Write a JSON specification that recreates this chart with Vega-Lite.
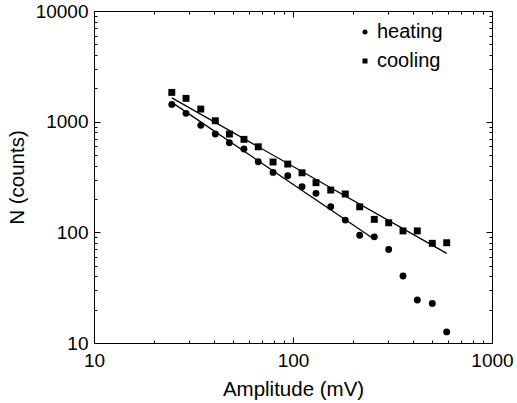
{
  "$schema": "https://vega.github.io/schema/vega-lite/v6.json",
  "width": 398,
  "height": 332,
  "autosize": {"type": "none"},
  "padding": {"left": 94, "top": 11, "right": 25, "bottom": 60},
  "background": "white",
  "config": {
    "view": {"stroke": null},
    "font": "Liberation Sans",
    "axis": {
      "domainColor": "black",
      "domainWidth": 1,
      "tickColor": "black",
      "tickWidth": 1,
      "grid": false,
      "labelFont": "Liberation Sans",
      "labelFontSize": 19,
      "labelColor": "black",
      "titleFont": "Liberation Sans",
      "titleFontSize": 20.5,
      "titleFontWeight": "normal",
      "titleColor": "black",
      "labelOverlap": false,
      "labelFlush": false,
      "labelBound": false
    }
  },
  "layer": [
    {
      "data": {
        "values": [
          {"amp": 24.6, "n": 1433, "series": "heating"},
          {"amp": 29.0, "n": 1189, "series": "heating"},
          {"amp": 34.4, "n": 926, "series": "heating"},
          {"amp": 40.7, "n": 773, "series": "heating"},
          {"amp": 47.9, "n": 645, "series": "heating"},
          {"amp": 56.7, "n": 566, "series": "heating"},
          {"amp": 66.9, "n": 434, "series": "heating"},
          {"amp": 79.4, "n": 348, "series": "heating"},
          {"amp": 94.1, "n": 325, "series": "heating"},
          {"amp": 111.0, "n": 258, "series": "heating"},
          {"amp": 130.5, "n": 225, "series": "heating"},
          {"amp": 154.7, "n": 170, "series": "heating"},
          {"amp": 183.1, "n": 129, "series": "heating"},
          {"amp": 216.4, "n": 94, "series": "heating"},
          {"amp": 256.2, "n": 91, "series": "heating"},
          {"amp": 302.6, "n": 70, "series": "heating"},
          {"amp": 357.2, "n": 40.3, "series": "heating"},
          {"amp": 421.3, "n": 24.5, "series": "heating"},
          {"amp": 501.2, "n": 22.8, "series": "heating"},
          {"amp": 592.0, "n": 12.6, "series": "heating"},
          {"amp": 24.6, "n": 1839, "series": "cooling"},
          {"amp": 29.0, "n": 1624, "series": "cooling"},
          {"amp": 34.4, "n": 1300, "series": "cooling"},
          {"amp": 40.7, "n": 1019, "series": "cooling"},
          {"amp": 47.9, "n": 773, "series": "cooling"},
          {"amp": 56.7, "n": 692, "series": "cooling"},
          {"amp": 66.9, "n": 593, "series": "cooling"},
          {"amp": 79.4, "n": 432, "series": "cooling"},
          {"amp": 94.1, "n": 414, "series": "cooling"},
          {"amp": 111.0, "n": 345, "series": "cooling"},
          {"amp": 130.5, "n": 281, "series": "cooling"},
          {"amp": 154.7, "n": 241, "series": "cooling"},
          {"amp": 183.1, "n": 222, "series": "cooling"},
          {"amp": 216.4, "n": 170, "series": "cooling"},
          {"amp": 256.2, "n": 131, "series": "cooling"},
          {"amp": 302.6, "n": 122, "series": "cooling"},
          {"amp": 357.2, "n": 103, "series": "cooling"},
          {"amp": 421.3, "n": 103, "series": "cooling"},
          {"amp": 501.2, "n": 79.6, "series": "cooling"},
          {"amp": 592.0, "n": 80.5, "series": "cooling"}
        ]
      },
      "mark": {"type": "point", "filled": true, "size": 48, "opacity": 1, "color": "black"},
      "encoding": {
        "x": {
          "field": "amp", "type": "quantitative",
          "scale": {"type": "log", "domain": [10, 1000], "nice": false},
          "axis": {
            "orient": "bottom",
            "title": "Amplitude (mV)",
            "titlePadding": 6,
            "values": [10,20,30,40,50,60,70,80,90,100,200,300,400,500,600,700,800,900,1000],
            "labelExpr": "(datum.value==10||datum.value==100||datum.value==1000) ? format(datum.value,'d') : ''",
            "tickSize": {"condition": {"test": "datum.value==10||datum.value==100||datum.value==1000", "value": -6}, "value": -3},
            "labelPadding": 14
          }
        },
        "y": {
          "field": "n", "type": "quantitative",
          "scale": {"type": "log", "domain": [10, 10000], "nice": false},
          "axis": {
            "orient": "left",
            "title": "N (counts)",
            "titlePadding": 8,
            "values": [10,20,30,40,50,60,70,80,90,100,200,300,400,500,600,700,800,900,1000,2000,3000,4000,5000,6000,7000,8000,9000,10000],
            "labelExpr": "(datum.value==10||datum.value==100||datum.value==1000||datum.value==10000) ? format(datum.value,'d') : ''",
            "tickSize": {"condition": {"test": "datum.value==10||datum.value==100||datum.value==1000||datum.value==10000", "value": -6}, "value": -3},
            "labelPadding": 12
          }
        },
        "shape": {
          "field": "series", "type": "nominal",
          "scale": {"domain": ["heating", "cooling"], "range": ["circle", "square"]},
          "legend": {
            "title": null,
            "orient": "none",
            "legendX": 261,
            "legendY": 11,
            "symbolSize": 25,
            "symbolFillColor": "black",
            "symbolStrokeColor": "black",
            "labelFont": "Liberation Sans",
            "labelFontSize": 20,
            "labelColor": "black",
            "labelOffset": 2,
            "rowPadding": 9
          }
        }
      }
    },
    {
      "data": {
        "values": [
          {"amp": 24.6, "n": 1494, "fit": "heating"},
          {"amp": 256.2, "n": 86.5, "fit": "heating"},
          {"amp": 24.6, "n": 1640, "fit": "cooling"},
          {"amp": 592.0, "n": 64.6, "fit": "cooling"}
        ]
      },
      "mark": {"type": "line", "color": "black", "strokeWidth": 1.3},
      "encoding": {
        "x": {
          "field": "amp", "type": "quantitative",
          "axis": {
            "orient": "top",
            "title": null,
            "labels": false,
            "values": [10,20,30,40,50,60,70,80,90,100,200,300,400,500,600,700,800,900,1000],
            "tickSize": {"condition": {"test": "datum.value==10||datum.value==100||datum.value==1000", "value": -6}, "value": -3}
          }
        },
        "y": {
          "field": "n", "type": "quantitative",
          "axis": {
            "orient": "right",
            "title": null,
            "labels": false,
            "values": [10,20,30,40,50,60,70,80,90,100,200,300,400,500,600,700,800,900,1000,2000,3000,4000,5000,6000,7000,8000,9000,10000],
            "tickSize": {"condition": {"test": "datum.value==10||datum.value==100||datum.value==1000||datum.value==10000", "value": -6}, "value": -3}
          }
        },
        "detail": {"field": "fit", "type": "nominal"}
      }
    }
  ]
}
